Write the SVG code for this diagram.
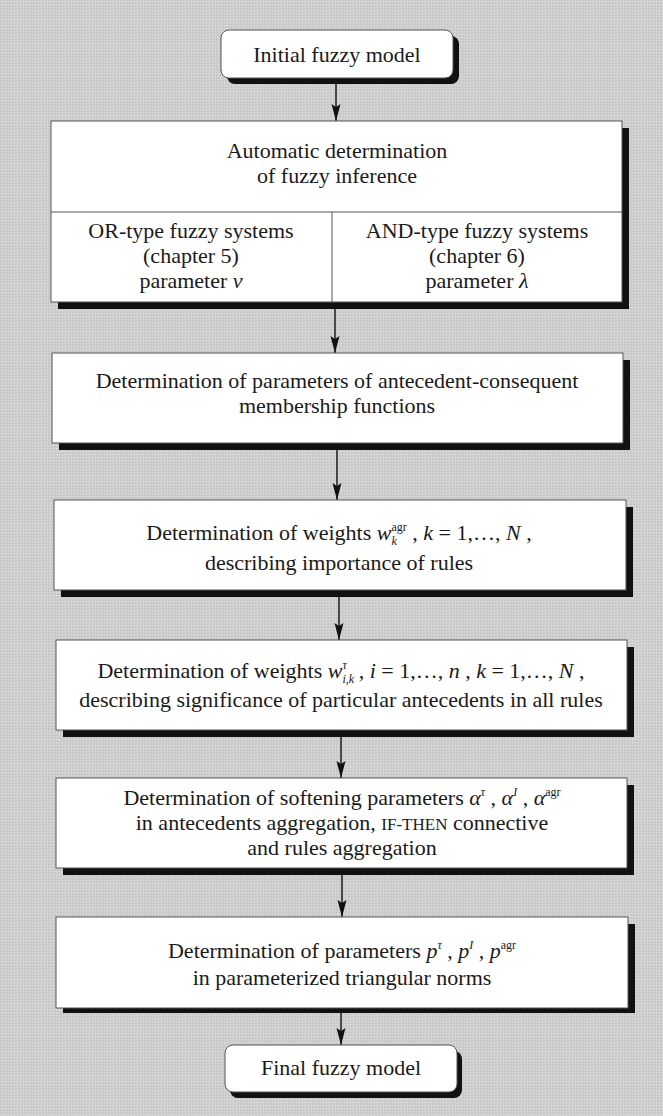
<svg xmlns="http://www.w3.org/2000/svg" width="663" height="1116" viewBox="0 0 663 1116">
<defs>
<pattern id="tex" width="3" height="3" patternUnits="userSpaceOnUse">
<rect width="3" height="3" fill="#d0d0d0"/>
<rect x="0" y="0" width="1" height="1" fill="#bdbdbd"/>
<rect x="2" y="1" width="1" height="1" fill="#dedede"/>
<rect x="1" y="2" width="1" height="1" fill="#c6c6c6"/>
</pattern>
<marker id="ah" markerUnits="userSpaceOnUse" markerWidth="18" markerHeight="10" refX="17" refY="5" orient="auto">
<path d="M0,0.5 L17,5 L0,9.5 L3,5 z" fill="#111"/>
</marker>
</defs>
<style>
.box{fill:#fff;stroke:#555;stroke-width:1}
.sh{fill:#111}
.t{font-family:"Liberation Serif","Times New Roman",serif;font-size:22px;fill:#1a1a1a;text-anchor:middle}
.i{font-style:italic}
.sup{font-size:12px}
.sc{font-size:17px}
.ln{stroke:#555;stroke-width:1}
.ar{stroke:#111;stroke-width:1.4;fill:none;marker-end:url(#ah)}
</style>
<rect width="663" height="1116" fill="url(#tex)"/>

<g id="connectors">
<line class="ar" x1="336" y1="84" x2="336" y2="121"/>
<line class="ar" x1="335" y1="307" x2="335" y2="353"/>
<line class="ar" x1="337" y1="450" x2="337" y2="500"/>
<line class="ar" x1="339" y1="596" x2="339" y2="640"/>
<line class="ar" x1="341" y1="737" x2="341" y2="778"/>
<line class="ar" x1="342" y1="875" x2="342" y2="917"/>
<line class="ar" x1="341" y1="1013" x2="341" y2="1045"/>
</g>

<g id="initial">
<rect class="sh" x="227" y="36" width="232" height="48" rx="8"/>
<rect class="box" x="221" y="30" width="232" height="48" rx="8"/>
<text class="t" x="337" y="62">Initial fuzzy model</text>
</g>

<g id="inference">
<rect class="sh" x="58" y="128" width="571" height="181"/>
<rect class="box" x="51" y="121" width="571" height="181"/>
<line class="ln" x1="51" y1="212" x2="622" y2="212"/>
<line class="ln" x1="332" y1="212" x2="332" y2="302"/>
<text class="t" x="337" y="158">Automatic determination</text>
<text class="t" x="337" y="183">of fuzzy inference</text>
<text class="t" x="191" y="238">OR-type fuzzy systems</text>
<text class="t" x="191" y="263">(chapter 5)</text>
<text class="t" x="191" y="288">parameter <tspan class="i">ν</tspan></text>
<text class="t" x="477" y="238">AND-type fuzzy systems</text>
<text class="t" x="477" y="263">(chapter 6)</text>
<text class="t" x="477" y="288">parameter <tspan class="i">λ</tspan></text>
</g>

<g id="membership">
<rect class="sh" x="59" y="360" width="571" height="90"/>
<rect class="box" x="52" y="353" width="571" height="90"/>
<text class="t" x="337" y="388">Determination of parameters of antecedent-consequent</text>
<text class="t" x="337" y="413">membership functions</text>
</g>

<g id="rule-weights">
<rect class="sh" x="61" y="507" width="572" height="90"/>
<rect class="box" x="54" y="500" width="572" height="90"/>
<text class="t" x="339" y="540">Determination of weights <tspan class="i">w</tspan><tspan class="sup i" dy="5">k</tspan><tspan class="sup" dx="-5.3" dy="-14">agr</tspan><tspan dy="9"> , </tspan><tspan class="i">k</tspan> = 1,…, <tspan class="i">N</tspan> ,</text>
<text class="t" x="339" y="570">describing importance of rules</text>
</g>

<g id="antecedent-weights">
<rect class="sh" x="63" y="647" width="571" height="90"/>
<rect class="box" x="56" y="640" width="571" height="90"/>
<text class="t" x="341" y="678">Determination of weights <tspan class="i">w</tspan><tspan class="sup i" dy="5">i,k</tspan><tspan class="sup i" dx="-11.7" dy="-14">τ</tspan><tspan dx="6.4" dy="9"> , </tspan><tspan class="i">i</tspan> = 1,…, <tspan class="i">n</tspan> , <tspan class="i">k</tspan> = 1,…, <tspan class="i">N</tspan> ,</text>
<text class="t" x="341" y="707">describing significance of particular antecedents in all rules</text>
</g>

<g id="softening">
<rect class="sh" x="63" y="785" width="571" height="90"/>
<rect class="box" x="56" y="778" width="571" height="90"/>
<text class="t" x="342" y="805">Determination of softening parameters <tspan class="i">α</tspan><tspan class="sup i" dy="-9">τ</tspan><tspan dy="9"> , </tspan><tspan class="i">α</tspan><tspan class="sup i" dy="-9">I</tspan><tspan dy="9"> , </tspan><tspan class="i">α</tspan><tspan class="sup" dy="-9">agr</tspan></text>
<text class="t" x="342" y="830">in antecedents aggregation, <tspan class="sc">IF-THEN</tspan> connective</text>
<text class="t" x="342" y="855">and rules aggregation</text>
</g>

<g id="norms">
<rect class="sh" x="63" y="924" width="572" height="89"/>
<rect class="box" x="56" y="917" width="572" height="91"/>
<text class="t" x="342" y="958">Determination of parameters <tspan class="i">p</tspan><tspan class="sup i" dy="-9">τ</tspan><tspan dy="9"> , </tspan><tspan class="i">p</tspan><tspan class="sup i" dy="-9">I</tspan><tspan dy="9"> , </tspan><tspan class="i">p</tspan><tspan class="sup" dy="-9">agr</tspan></text>
<text class="t" x="342" y="985">in parameterized triangular norms</text>
</g>

<g id="final">
<rect class="sh" x="230" y="1051" width="232" height="47" rx="8"/>
<rect class="box" x="225" y="1045" width="232" height="47" rx="8"/>
<text class="t" x="341" y="1075">Final fuzzy model</text>
</g>
</svg>
